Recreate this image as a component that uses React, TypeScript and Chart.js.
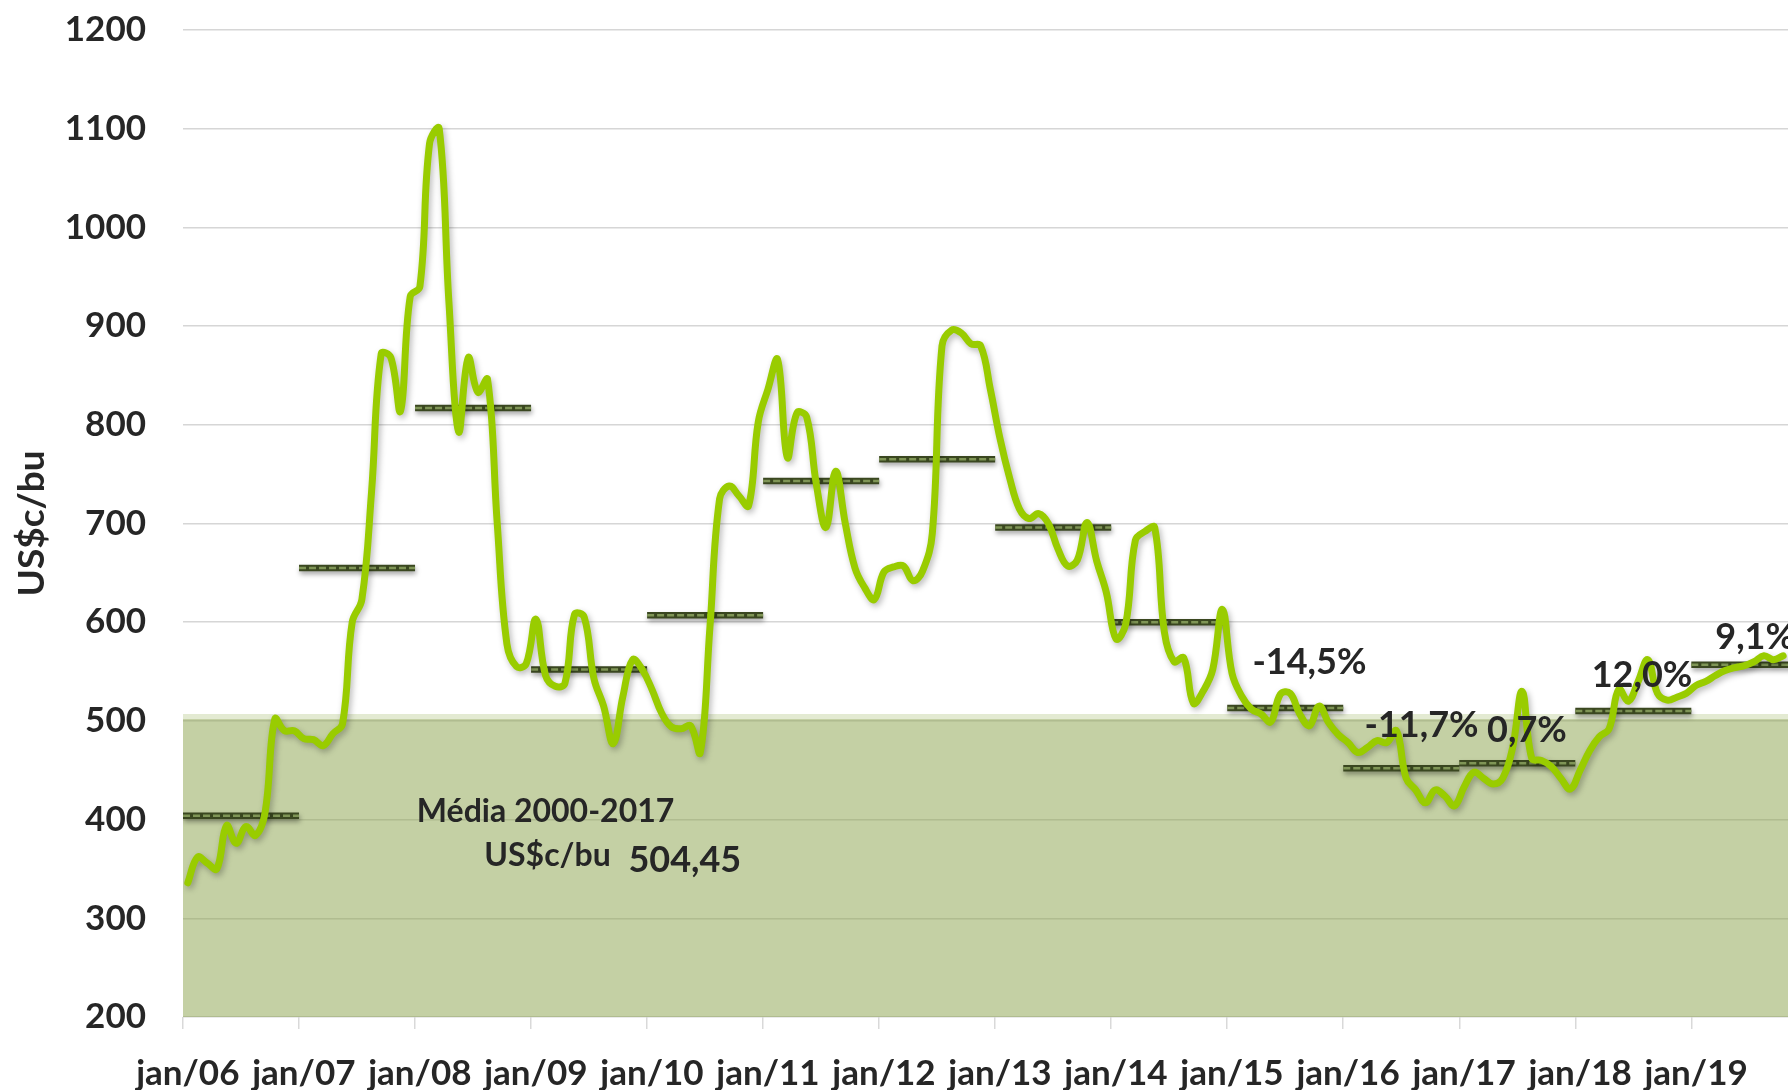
import React, { useEffect, useRef } from 'react';
import { Chart, registerables } from 'chart.js';

Chart.register(...registerables);

// ---------- data ----------
const X_LABELS = ['jan/06', 'jan/07', 'jan/08', 'jan/09', 'jan/10', 'jan/11', 'jan/12', 'jan/13', 'jan/14', 'jan/15', 'jan/16', 'jan/17', 'jan/18', 'jan/19'];
const X_MAX_MONTHS = 166;
const Y_MIN = 200;
const Y_MAX = 1200;
const Y_STEP = 100;

const PRICES_2006 = [336, 362, 356, 350, 394, 376, 393, 384, 408, 502, 490, 490];
const PRICES_2007 = [482, 481, 475, 487, 497, 600, 623, 732, 872, 868, 814, 930];
const PRICES_2008 = [940, 1085, 1100, 925, 793, 868, 833, 846, 700, 578, 555, 558];
const PRICES_2009 = [603, 546, 535, 538, 608, 605, 543, 515, 477, 525, 562, 552];
const PRICES_2010 = [532, 508, 494, 492, 495, 468, 595, 725, 738, 728, 718, 803];
const PRICES_2011 = [836, 866, 767, 812, 808, 740, 696, 753, 700, 655, 635, 623];
const PRICES_2012 = [651, 656, 657, 642, 652, 690, 880, 896, 893, 882, 880, 836];
const PRICES_2013 = [786, 746, 715, 705, 710, 700, 674, 657, 663, 701, 662, 630];
const PRICES_2014 = [583, 598, 683, 692, 696, 590, 560, 564, 518, 530, 552, 613];
const PRICES_2015 = [548, 525, 512, 507, 499, 527, 528, 507, 495, 515, 498, 486];
const PRICES_2016 = [478, 468, 473, 480, 478, 490, 442, 430, 417, 430, 424, 414];
const PRICES_2017 = [433, 448, 442, 436, 442, 472, 530, 462, 460, 454, 442, 431];
const PRICES_2018 = [450, 470, 484, 492, 532, 520, 540, 562, 528, 521, 524, 528];
const PRICES_2019 = [536, 540, 546, 551, 554, 556, 560, 566, 562, 566];

const PRICES = [
  ...PRICES_2006, ...PRICES_2007, ...PRICES_2008, ...PRICES_2009, ...PRICES_2010,
  ...PRICES_2011, ...PRICES_2012, ...PRICES_2013, ...PRICES_2014, ...PRICES_2015,
  ...PRICES_2016, ...PRICES_2017, ...PRICES_2018, ...PRICES_2019,
];

const ANNUAL_AVG = [404, 655, 817, 552, 607, 743, 765, 696, 600, 513, 452, 457, 510, 557];
const MEDIA_2000_2017 = 504.45;

const CHANGE_LABELS = ['-14,5%', '-11,7%', '0,7%', '12,0%', '9,1%'];
const MEDIA_TITLE = 'Média 2000-2017';
const MEDIA_UNIT = 'US$c/bu';
const MEDIA_VALUE = '504,45';
const Y_TITLE = 'US$c/bu';

// ---------- layout (label anchors in month / value space) ----------
const CHANGE_ANCHORS = [
  { m: 116.5, v: 547.5 },
  { m: 128.1, v: 483.7 },
  { m: 139.0, v: 478.6 },
  { m: 150.9, v: 534.4 },
  { m: 162.6, v: 572.9 },
];
const MEDIA_TITLE_ANCHOR = { m: 37.5, v: 397.3 };
const MEDIA_UNIT_ANCHOR = { m: 37.7, v: 353.3 };
const MEDIA_VALUE_ANCHOR = { m: 51.9, v: 346.9 };

const TEXT_COLOR = '#262626';
const FONT = 'Lato';

const shadowPlugin = {
  id: 'lineShadow',
  beforeDatasetDraw(chart: any, args: any) {
    const ds = chart.data.datasets[args.index];
    if (!ds._shadow) return;
    const ctx = chart.ctx;
    ctx.save();
    ctx.shadowColor = ds._shadow.color;
    ctx.shadowBlur = ds._shadow.blur;
    ctx.shadowOffsetX = ds._shadow.dx;
    ctx.shadowOffsetY = ds._shadow.dy;
  },
  afterDatasetDraw(chart: any, args: any) {
    const ds = chart.data.datasets[args.index];
    if (!ds._shadow) return;
    chart.ctx.restore();
  },
};

const textPlugin = {
  id: 'textAnnotations',
  afterDraw(chart: any) {
    const { ctx, scales } = chart;
    const xs = scales.x;
    const ys = scales.y;
    ctx.save();
    ctx.fillStyle = TEXT_COLOR;
    ctx.textBaseline = 'alphabetic';
    ctx.textAlign = 'center';

    ctx.font = `bold 36px ${FONT}`;
    CHANGE_LABELS.forEach((t, i) => {
      const a = CHANGE_ANCHORS[i];
      ctx.fillText(t, xs.getPixelForValue(a.m), ys.getPixelForValue(a.v));
    });

    ctx.font = `bold 32px ${FONT}`;
    ctx.fillText(MEDIA_TITLE, xs.getPixelForValue(MEDIA_TITLE_ANCHOR.m), ys.getPixelForValue(MEDIA_TITLE_ANCHOR.v));
    ctx.fillText(MEDIA_UNIT, xs.getPixelForValue(MEDIA_UNIT_ANCHOR.m), ys.getPixelForValue(MEDIA_UNIT_ANCHOR.v));
    ctx.font = `bold 36px ${FONT}`;
    ctx.fillText(MEDIA_VALUE, xs.getPixelForValue(MEDIA_VALUE_ANCHOR.m), ys.getPixelForValue(MEDIA_VALUE_ANCHOR.v));

    // y axis title
    const ca = chart.chartArea;
    ctx.translate(44, (ca.top + ca.bottom) / 2);
    ctx.rotate(-Math.PI / 2);
    ctx.font = `bold 37px ${FONT}`;
    ctx.fillText(Y_TITLE, 0, 0);
    ctx.restore();
  },
};

export default function App() {
  const canvasRef = useRef<HTMLCanvasElement | null>(null);

  useEffect(() => {
    let chart: Chart | null = null;
    let cancelled = false;

    const build = () => {
      if (cancelled || !canvasRef.current) return;

      const priceData = PRICES.map((v, i) => ({ x: i + 0.5, y: v }));
      const avgData: any[] = [];
      ANNUAL_AVG.forEach((v, i) => {
        avgData.push({ x: i * 12, y: v }, { x: i * 12 + 12, y: v }, { x: i * 12 + 12, y: null });
      });
      const areaData = [
        { x: 0, y: MEDIA_2000_2017 },
        { x: X_MAX_MONTHS, y: MEDIA_2000_2017 },
      ];

      const tickFont = { family: FONT, size: 35, weight: 'bold' as const };

      chart = new Chart(canvasRef.current, {
        type: 'line',
        data: {
          datasets: [
            {
              data: priceData,
              borderColor: '#99CC00',
              borderWidth: 7,
              tension: 0.4,
              pointRadius: 0,
              fill: false,
              borderCapStyle: 'round',
              borderJoinStyle: 'round',
              _shadow: { color: 'rgba(0,0,0,0.28)', blur: 6, dx: 2, dy: 3 },
            } as any,
            {
              data: avgData,
              borderColor: '#7f9556',
              borderWidth: 2.5,
              borderDash: [7, 3],
              tension: 0,
              pointRadius: 0,
              fill: false,
              spanGaps: false,
            } as any,
            {
              data: avgData,
              borderColor: '#3a4720',
              borderWidth: 6.5,
              tension: 0,
              pointRadius: 0,
              fill: false,
              spanGaps: false,
              _shadow: { color: 'rgba(0,0,0,0.35)', blur: 5, dx: 1, dy: 3 },
            } as any,
            {
              data: areaData,
              borderColor: '#e3ead2',
              borderWidth: 5,
              tension: 0,
              pointRadius: 0,
              fill: 'start',
              backgroundColor: 'rgba(137,161,73,0.5)',
            } as any,
          ],
        },
        options: {
          responsive: false,
          animation: false,
          devicePixelRatio: 1,
          layout: { padding: { top: 30, right: 0, bottom: 0, left: 0 } },
          plugins: {
            legend: { display: false },
            tooltip: { enabled: false },
          },
          elements: { point: { radius: 0 } },
          scales: {
            x: {
              type: 'linear',
              min: 0,
              max: X_MAX_MONTHS,
              afterBuildTicks: (s: any) => {
                s.ticks = X_LABELS.map((_, i) => ({ value: i * 12 }));
              },
              afterFit: (s: any) => {
                s.height = 73;
              },
              ticks: {
                autoSkip: false,
                maxRotation: 0,
                minRotation: 0,
                padding: 24,
                labelOffset: 4.8,
                color: TEXT_COLOR,
                font: tickFont,
                callback: (_v: any, i: number) => X_LABELS[i],
              },
              grid: {
                drawOnChartArea: false,
                drawTicks: true,
                tickLength: 12,
                color: '#d9d9d9',
                lineWidth: 1.5,
              },
              border: { display: false },
            },
            y: {
              min: Y_MIN,
              max: Y_MAX,
              afterFit: (s: any) => {
                s.width = 183;
              },
              ticks: {
                stepSize: Y_STEP,
                padding: 0,
                color: TEXT_COLOR,
                font: tickFont,
                callback: (v: any) => String(v),
              },
              grid: {
                drawTicks: true,
                tickLength: 37,
                tickColor: 'rgba(0,0,0,0)',
                color: '#d6d6d6',
                lineWidth: 1.5,
              },
              border: { display: false },
            },
          },
        } as any,
        plugins: [shadowPlugin, textPlugin],
      });
    };

    const fontsReady = (document as any).fonts
      ? Promise.all([
          (document as any).fonts.load(`bold 35px ${FONT}`),
          (document as any).fonts.load(`bold 32px ${FONT}`),
        ]).catch(() => null)
      : Promise.resolve(null);
    fontsReady.then(build);

    return () => {
      cancelled = true;
      if (chart) chart.destroy();
    };
  }, []);

  return (
    <div style={{ position: 'fixed', left: 0, top: 0, width: 1788, height: 1090, background: '#ffffff' }}>
      <canvas ref={canvasRef} width={1788} height={1090} style={{ display: 'block', width: 1788, height: 1090 }} />
    </div>
  );
}
